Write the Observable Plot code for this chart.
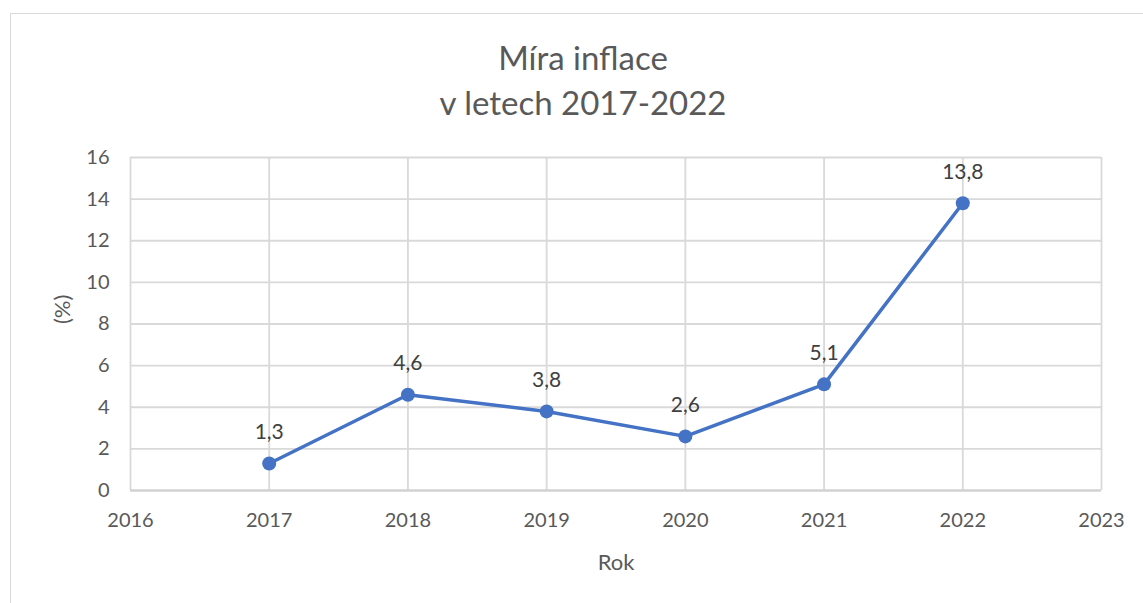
<!DOCTYPE html>
<html>
<head>
<meta charset="utf-8">
<script src="https://cdn.jsdelivr.net/npm/d3@7"></script>
<script src="https://cdn.jsdelivr.net/npm/@observablehq/plot@0.6"></script>
<style>
  html, body { margin: 0; padding: 0; background: #fff; }
  #wrap { position: relative; width: 1143px; height: 603px; overflow: hidden; font-family: Lato, "Open Sans", sans-serif; }
  #frame { position: absolute; left: 10px; top: 13px; width: 1200px; height: 700px; border: 1.5px solid #d9d9d9; box-sizing: border-box; }
  #title { position: absolute; left: 0; width: 1166px; top: 35px; text-align: center; color: #595959; font-size: 33px; line-height: 45px; }
  #chart { position: absolute; left: 0; top: 0; }
</style>
</head>
<body>
<div id="wrap">
  <div id="frame"></div>
  <div id="title">Míra inflace<br>v letech 2017-2022</div>
  <div id="chart"></div>
</div>
<script>
const years = [2017, 2018, 2019, 2020, 2021, 2022];
const inflation = [1.3, 4.6, 3.8, 2.6, 5.1, 13.8];
const xTicks = [2016, 2017, 2018, 2019, 2020, 2021, 2022, 2023];
const yTicks = [0, 2, 4, 6, 8, 10, 12, 14, 16];

const data = years.map((y, i) => ({year: y, value: inflation[i]}));
const fmt = v => String(v).replace(".", ",");

const plot = Plot.plot({
  width: 1143,
  height: 603,
  marginLeft: 130,
  marginRight: 42,
  marginTop: 157,
  marginBottom: 113,
  style: {fontFamily: "Lato, 'Open Sans', sans-serif", fontSize: "20px", color: "#595959", background: "transparent", overflow: "visible"},
  x: {domain: [2016, 2023], ticks: xTicks, tickFormat: d => String(d), label: null},
  y: {domain: [0, 16], ticks: yTicks, label: null},
  marks: [
    Plot.gridX(xTicks, {stroke: "#d9d9d9", strokeOpacity: 1, strokeWidth: 1.8}),
    Plot.gridY(yTicks, {stroke: "#d9d9d9", strokeOpacity: 1, strokeWidth: 1.8}),
    Plot.ruleY([0], {stroke: "#d0d0d0", strokeWidth: 2}),
    Plot.axisX(xTicks, {tickSize: 0, tickPadding: 22, fontSize: 20, fill: "#595959", tickFormat: d => String(d), label: null}),
    Plot.axisY(yTicks, {tickSize: 0, tickPadding: 21, fontSize: 20, fill: "#595959", label: null}),
    Plot.text(["Rok"], {frameAnchor: "bottom", dy: 72, fontSize: 22, fill: "#595959", lineAnchor: "middle"}),
    Plot.text(["(%)"], {frameAnchor: "left", dx: -68, rotate: -90, fontSize: 22, fill: "#595959"}),
    Plot.line(data, {x: "year", y: "value", stroke: "#4472c4", strokeWidth: 3.5}),
    Plot.dot(data, {x: "year", y: "value", r: 7, fill: "#4472c4", stroke: "none"}),
    Plot.text(data, {x: "year", y: "value", text: d => fmt(d.value), dy: -31, fontSize: 21, fill: "#404040"})
  ]
});
document.getElementById("chart").appendChild(plot);
</script>
</body>
</html>
